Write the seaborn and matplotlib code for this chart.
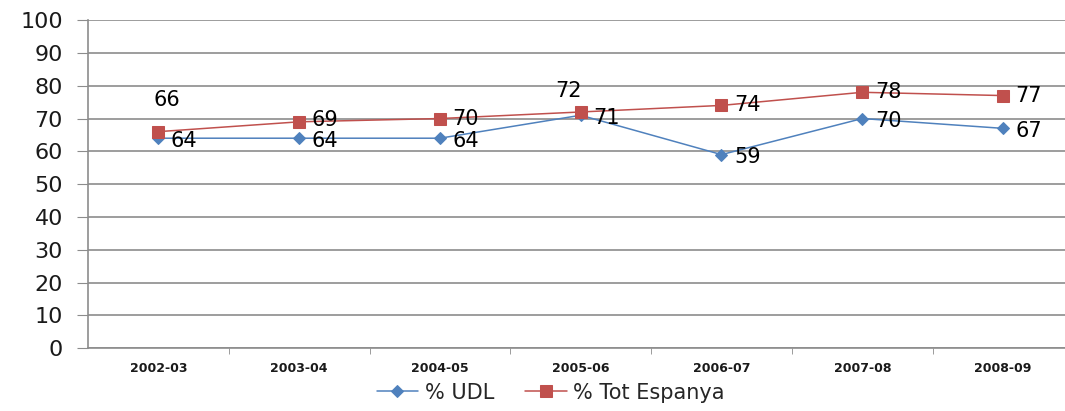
import numpy as np
import pandas as pd
import matplotlib
matplotlib.use('Agg')
import matplotlib.pyplot as plt
from matplotlib.ticker import FixedLocator
import seaborn as sns

# data
cursos = ['2002-03', '2003-04', '2004-05', '2005-06', '2006-07', '2007-08', '2008-09']
udl = [64, 64, 64, 71, 59, 70, 67]
espanya = [66, 69, 70, 72, 74, 78, 77]

# label offsets (points) for the Espanya values, as Excel placed them
esp_off = [(6, 23), (9, 1), (9, 0), (-9, 15), (9, 0), (9, 0), (9, 0)]

sns.set_style('white')
plt.rcParams['font.family'] = ['DejaVu Sans']

blue = '#4F81BD'
red = '#C0504D'
grid = '#8C8C8C'

fig = plt.figure(figsize=(10.65, 4.11), dpi=100)
ax = fig.add_axes([0.0826, 0.153, 0.9174, 0.798])

df = pd.DataFrame({'curs': cursos, 'udl': udl, 'espanya': espanya})

sns.lineplot(data=df, x='curs', y='udl', color=blue, marker='D', markersize=6,
             markeredgecolor=blue, linewidth=1.1, ax=ax, label='% UDL', sort=False)
sns.lineplot(data=df, x='curs', y='espanya', color=red, marker='s', markersize=8,
             markeredgecolor=red, linewidth=1.1, ax=ax, label='% Tot Espanya', sort=False)

for i, v in enumerate(udl):
    ax.annotate(str(v), (i, v), xytext=(9, -2), textcoords='offset points',
                ha='left', va='center', fontsize=15, color='black')
for i, v in enumerate(espanya):
    dx, dy = esp_off[i]
    ax.annotate(str(v), (i, v), xytext=(dx, dy), textcoords='offset points',
                ha='left' if dy < 5 else 'center', va='center', fontsize=15, color='black')

ax.set_ylim(0, 100)
ax.set_xlim(-0.5, 6.44)
ax.set_yticks(np.arange(0, 101, 10))
ax.yaxis.grid(True, color=grid, linewidth=1.2)
ax.set_axisbelow(True)
ax.set_xlabel('')
ax.set_ylabel('')

for s in ['top', 'right']:
    ax.spines[s].set_visible(False)
ax.spines['left'].set_color(grid)
ax.spines['bottom'].set_color(grid)
ax.spines['left'].set_linewidth(1.2)
ax.spines['bottom'].set_linewidth(1.2)

ax.tick_params(axis='y', labelsize=16, length=8, color=grid, direction='out', pad=10,
               left=True, labelcolor='#1a1a1a')
ax.tick_params(axis='x', which='major', length=0, labelsize=9, pad=10, labelcolor='#1a1a1a')
ax.xaxis.set_minor_locator(FixedLocator(np.arange(0.5, 6.5, 1)))
ax.tick_params(axis='x', which='minor', length=4, color=grid, direction='out', bottom=True)
for lab in ax.get_xticklabels():
    lab.set_fontweight('bold')

ax.get_legend().remove()
handles, labels = ax.get_legend_handles_labels()
fig.legend(handles, labels, loc='lower center', bbox_to_anchor=(0.517, -0.025), ncol=2,
           frameon=False, fontsize=15, handlelength=2.0, columnspacing=1.5, handletextpad=0.3)

fig.savefig('out.png', dpi=100)
